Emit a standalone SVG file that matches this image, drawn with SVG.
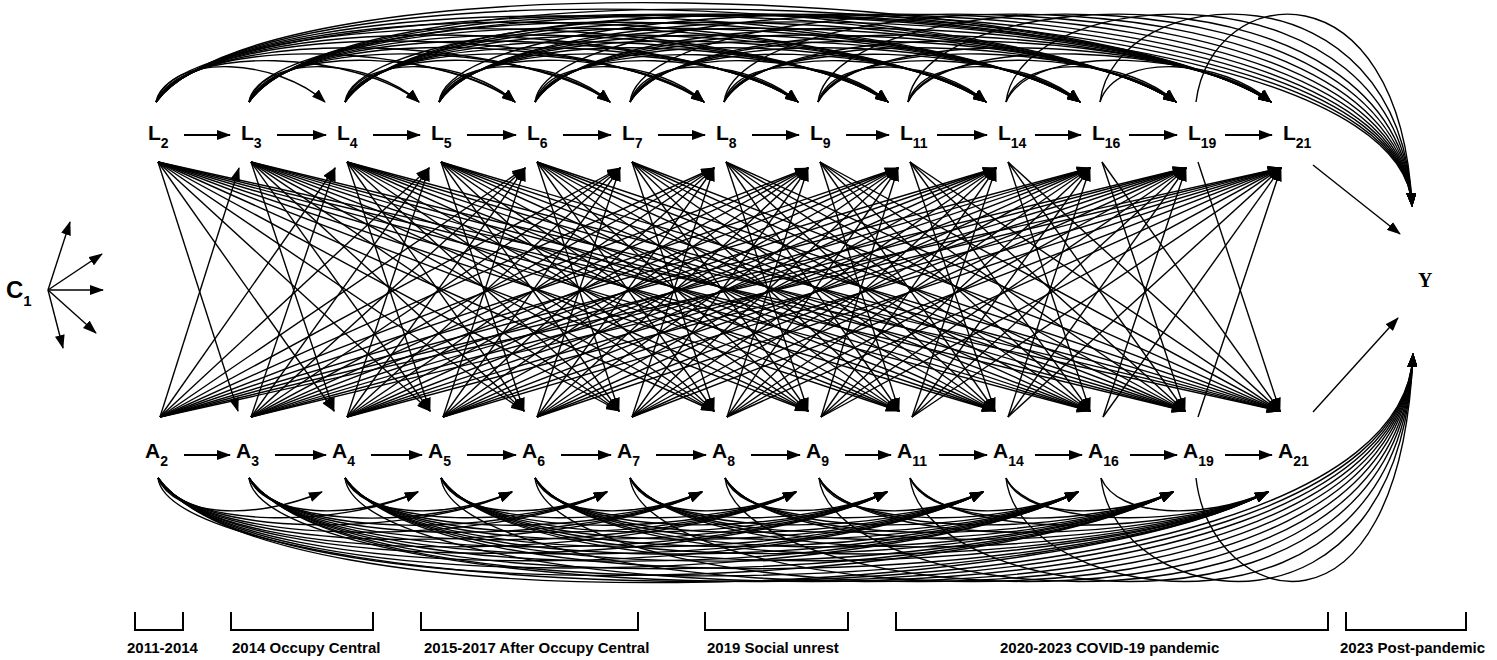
<svg xmlns="http://www.w3.org/2000/svg" width="1497" height="660" viewBox="0 0 1497 660">
<defs>
<marker id="ah" viewBox="0 0 14 10" refX="13" refY="5" markerWidth="14" markerHeight="10" markerUnits="userSpaceOnUse" orient="auto"><path d="M0,0L14,5L0,10z" fill="#000"/></marker>
</defs>
<style>
text{font-family:"Liberation Sans",Arial,sans-serif;font-weight:bold;fill:#000}
.n{font-size:21px}
.s{font-size:14px}
.p{font-size:15px}
.y{font-family:"Liberation Serif","Times New Roman",serif;font-size:20px}
#connectors path{fill:none;stroke:#000;stroke-width:1.4;marker-end:url(#ah)}
#connectors .h path{stroke-width:2}
.br{fill:none;stroke:#000;stroke-width:2}
</style>
<rect width="1497" height="660" fill="#fff"/>
<g id="connectors">
<g class="h">
<path d="M184 135H230"/><path d="M277 135H326"/><path d="M373 135H420"/><path d="M467 135H516"/><path d="M563 135H611"/><path d="M658 135H705"/><path d="M752 135H799"/><path d="M846 135H889"/><path d="M937 135H987"/><path d="M1035 135H1081"/><path d="M1129 135H1177"/><path d="M1225 135H1272"/>
<path d="M184 455H230"/><path d="M275 455H326"/><path d="M371 455H422"/><path d="M467 455H516"/><path d="M561 455H611"/><path d="M656 455H706"/><path d="M751 455H800"/><path d="M845 455H891"/><path d="M939 455H987"/><path d="M1035 455H1082"/><path d="M1130 455H1177"/><path d="M1225 455H1272"/>
</g>
<g class="c1">
<path d="M48 290L70 222"/><path d="M48 290L102 254"/><path d="M48 290L103 290"/><path d="M48 290L96 333"/><path d="M48 290L63 348"/>
</g>
<g class="toY">
<path d="M1313 165L1400 234"/><path d="M1313 412L1398 318"/>
</g>
<g class="topArcs">
<path d="M156 102C173 50 280 60 325 102"/><path d="M156 102C182 41 360 53 419 102"/><path d="M156 102C192 31 441 45 515 102"/><path d="M156 102C201 22 522 38 610 102"/><path d="M156 102C211 12 602 30 704 102"/><path d="M156 102C220 3 682 23 798 102"/><path d="M156 102C229 -6 758 15 888 102"/><path d="M156 102C239 -16 841 8 986 102"/><path d="M156 102C248 -25 921 0 1080 102"/><path d="M156 102C258 -35 1003 -8 1176 102"/><path d="M156 102C268 -45 1084 -15 1271 102"/>
<path d="M249 102C266 50 374 60 419 102"/><path d="M249 102C276 40 455 53 515 102"/><path d="M249 102C285 31 536 45 610 102"/><path d="M249 102C295 21 616 38 704 102"/><path d="M249 102C304 12 696 30 798 102"/><path d="M249 102C313 3 772 23 888 102"/><path d="M249 102C323 -7 855 15 986 102"/><path d="M249 102C332 -16 935 8 1080 102"/><path d="M249 102C342 -26 1017 0 1176 102"/><path d="M249 102C351 -35 1098 -8 1271 102"/>
<path d="M345 102C362 50 470 60 515 102"/><path d="M345 102C372 40 550 53 610 102"/><path d="M345 102C381 31 630 45 704 102"/><path d="M345 102C390 22 710 38 798 102"/><path d="M345 102C399 13 787 31 888 102"/><path d="M345 102C409 3 870 23 986 102"/><path d="M345 102C419 -7 950 15 1080 102"/><path d="M345 102C428 -16 1031 8 1176 102"/><path d="M345 102C438 -26 1112 0 1271 102"/>
<path d="M439 102C456 50 564 60 610 102"/><path d="M439 102C466 40 644 53 704 102"/><path d="M439 102C475 31 724 45 798 102"/><path d="M439 102C484 22 801 38 888 102"/><path d="M439 102C494 12 884 30 986 102"/><path d="M439 102C503 3 964 23 1080 102"/><path d="M439 102C513 -7 1045 15 1176 102"/><path d="M439 102C522 -16 1126 7 1271 102"/>
<path d="M535 102C552 50 659 60 704 102"/><path d="M535 102C561 41 739 53 798 102"/><path d="M535 102C570 32 815 46 888 102"/><path d="M535 102C580 22 898 38 986 102"/><path d="M535 102C590 13 978 30 1080 102"/><path d="M535 102C599 3 1060 23 1176 102"/><path d="M535 102C609 -7 1141 15 1271 102"/>
<path d="M630 102C647 50 753 61 798 102"/><path d="M630 102C656 41 829 53 888 102"/><path d="M630 102C666 31 913 46 986 102"/><path d="M630 102C675 22 992 38 1080 102"/><path d="M630 102C685 12 1074 30 1176 102"/><path d="M630 102C694 3 1155 23 1271 102"/>
<path d="M724 102C740 51 843 61 888 102"/><path d="M724 102C750 41 927 53 986 102"/><path d="M724 102C760 31 1007 46 1080 102"/><path d="M724 102C769 22 1088 38 1176 102"/><path d="M724 102C779 12 1169 30 1271 102"/>
<path d="M818 102C835 50 941 61 986 102"/><path d="M818 102C844 41 1021 53 1080 102"/><path d="M818 102C854 31 1102 45 1176 102"/><path d="M818 102C863 22 1183 38 1271 102"/>
<path d="M908 102C925 50 1034 60 1080 102"/><path d="M908 102C935 40 1116 53 1176 102"/><path d="M908 102C944 31 1197 45 1271 102"/>
<path d="M1006 102C1023 50 1130 60 1176 102"/><path d="M1006 102C1033 40 1211 53 1271 102"/>
<path d="M1100 102C1117 50 1225 60 1271 102"/>
</g>
<g class="topY">
<path d="M156 102C171 -20 1400 -40 1412 206"/><path d="M249 102C264 -20 1400 -40 1412 206"/><path d="M345 102C360 -20 1400 -40 1412 206"/><path d="M439 102C454 -20 1400 -40 1412 206"/><path d="M535 102C550 -20 1400 -40 1412 206"/><path d="M630 102C645 -20 1400 -40 1412 206"/><path d="M724 102C739 -20 1400 -40 1412 206"/><path d="M818 102C833 -20 1400 -40 1412 206"/><path d="M908 102C923 -20 1400 -40 1412 206"/><path d="M1006 102C1021 -20 1400 -40 1412 206"/><path d="M1100 102C1115 -20 1400 -40 1412 206"/><path d="M1196 102C1211 -20 1400 -40 1412 206"/>
</g>
<g class="LtoA">
<path d="M158 162L238 411"/><path d="M158 162L334 411"/><path d="M158 162L430 411"/><path d="M158 162L524 411"/><path d="M158 162L619 411"/><path d="M158 162L714 411"/><path d="M158 162L808 411"/><path d="M158 162L899 411"/><path d="M158 162L995 411"/><path d="M158 162L1090 411"/><path d="M158 162L1185 411"/><path d="M158 162L1280 411"/>
<path d="M251 162L334 411"/><path d="M251 162L430 411"/><path d="M251 162L524 411"/><path d="M251 162L619 411"/><path d="M251 162L714 411"/><path d="M251 162L808 411"/><path d="M251 162L899 411"/><path d="M251 162L995 411"/><path d="M251 162L1090 411"/><path d="M251 162L1185 411"/><path d="M251 162L1280 411"/>
<path d="M347 162L430 411"/><path d="M347 162L524 411"/><path d="M347 162L619 411"/><path d="M347 162L714 411"/><path d="M347 162L808 411"/><path d="M347 162L899 411"/><path d="M347 162L995 411"/><path d="M347 162L1090 411"/><path d="M347 162L1185 411"/><path d="M347 162L1280 411"/>
<path d="M441 162L524 411"/><path d="M441 162L619 411"/><path d="M441 162L714 411"/><path d="M441 162L808 411"/><path d="M441 162L899 411"/><path d="M441 162L995 411"/><path d="M441 162L1090 411"/><path d="M441 162L1185 411"/><path d="M441 162L1280 411"/>
<path d="M537 162L619 411"/><path d="M537 162L714 411"/><path d="M537 162L808 411"/><path d="M537 162L899 411"/><path d="M537 162L995 411"/><path d="M537 162L1090 411"/><path d="M537 162L1185 411"/><path d="M537 162L1280 411"/>
<path d="M632 162L714 411"/><path d="M632 162L808 411"/><path d="M632 162L899 411"/><path d="M632 162L995 411"/><path d="M632 162L1090 411"/><path d="M632 162L1185 411"/><path d="M632 162L1280 411"/>
<path d="M726 162L808 411"/><path d="M726 162L899 411"/><path d="M726 162L995 411"/><path d="M726 162L1090 411"/><path d="M726 162L1185 411"/><path d="M726 162L1280 411"/>
<path d="M820 162L899 411"/><path d="M820 162L995 411"/><path d="M820 162L1090 411"/><path d="M820 162L1185 411"/><path d="M820 162L1280 411"/>
<path d="M910 162L995 411"/><path d="M910 162L1090 411"/><path d="M910 162L1185 411"/><path d="M910 162L1280 411"/>
<path d="M1008 162L1090 411"/><path d="M1008 162L1185 411"/><path d="M1008 162L1280 411"/>
<path d="M1102 162L1185 411"/><path d="M1102 162L1280 411"/>
<path d="M1198 162L1280 411"/>
</g>
<g class="AtoL">
<path d="M160 417L239 168"/><path d="M160 417L335 168"/><path d="M160 417L429 168"/><path d="M160 417L525 168"/><path d="M160 417L620 168"/><path d="M160 417L714 168"/><path d="M160 417L808 168"/><path d="M160 417L898 168"/><path d="M160 417L996 168"/><path d="M160 417L1090 168"/><path d="M160 417L1186 168"/><path d="M160 417L1281 168"/>
<path d="M251 417L335 168"/><path d="M251 417L429 168"/><path d="M251 417L525 168"/><path d="M251 417L620 168"/><path d="M251 417L714 168"/><path d="M251 417L808 168"/><path d="M251 417L898 168"/><path d="M251 417L996 168"/><path d="M251 417L1090 168"/><path d="M251 417L1186 168"/><path d="M251 417L1281 168"/>
<path d="M347 417L429 168"/><path d="M347 417L525 168"/><path d="M347 417L620 168"/><path d="M347 417L714 168"/><path d="M347 417L808 168"/><path d="M347 417L898 168"/><path d="M347 417L996 168"/><path d="M347 417L1090 168"/><path d="M347 417L1186 168"/><path d="M347 417L1281 168"/>
<path d="M443 417L525 168"/><path d="M443 417L620 168"/><path d="M443 417L714 168"/><path d="M443 417L808 168"/><path d="M443 417L898 168"/><path d="M443 417L996 168"/><path d="M443 417L1090 168"/><path d="M443 417L1186 168"/><path d="M443 417L1281 168"/>
<path d="M537 417L620 168"/><path d="M537 417L714 168"/><path d="M537 417L808 168"/><path d="M537 417L898 168"/><path d="M537 417L996 168"/><path d="M537 417L1090 168"/><path d="M537 417L1186 168"/><path d="M537 417L1281 168"/>
<path d="M632 417L714 168"/><path d="M632 417L808 168"/><path d="M632 417L898 168"/><path d="M632 417L996 168"/><path d="M632 417L1090 168"/><path d="M632 417L1186 168"/><path d="M632 417L1281 168"/>
<path d="M727 417L808 168"/><path d="M727 417L898 168"/><path d="M727 417L996 168"/><path d="M727 417L1090 168"/><path d="M727 417L1186 168"/><path d="M727 417L1281 168"/>
<path d="M821 417L898 168"/><path d="M821 417L996 168"/><path d="M821 417L1090 168"/><path d="M821 417L1186 168"/><path d="M821 417L1281 168"/>
<path d="M912 417L996 168"/><path d="M912 417L1090 168"/><path d="M912 417L1186 168"/><path d="M912 417L1281 168"/>
<path d="M1008 417L1090 168"/><path d="M1008 417L1186 168"/><path d="M1008 417L1281 168"/>
<path d="M1103 417L1186 168"/><path d="M1103 417L1281 168"/>
<path d="M1198 417L1281 168"/>
</g>
<g class="bottomArcs">
<path d="M158 478C174 518 257 520 322 492"/><path d="M158 478C184 529 339 528 418 492"/><path d="M158 478C193 540 419 536 512 492"/><path d="M158 478C203 552 500 544 607 492"/><path d="M158 478C212 563 580 552 702 492"/><path d="M158 478C222 575 660 560 796 492"/><path d="M158 478C231 585 738 567 887 492"/><path d="M158 478C241 597 819 575 983 492"/><path d="M158 478C250 608 900 583 1078 492"/><path d="M158 478C260 620 981 591 1173 492"/><path d="M158 478C269 631 1061 599 1268 492"/>
<path d="M249 478C266 518 353 520 418 492"/><path d="M249 478C275 530 433 528 512 492"/><path d="M249 478C285 541 513 536 607 492"/><path d="M249 478C294 552 594 544 702 492"/><path d="M249 478C304 564 674 552 796 492"/><path d="M249 478C313 575 751 560 887 492"/><path d="M249 478C322 586 833 568 983 492"/><path d="M249 478C332 597 914 576 1078 492"/><path d="M249 478C341 609 994 584 1173 492"/><path d="M249 478C351 620 1075 592 1268 492"/>
<path d="M345 478C362 518 447 520 512 492"/><path d="M345 478C371 529 528 528 607 492"/><path d="M345 478C381 541 608 536 702 492"/><path d="M345 478C390 552 688 544 796 492"/><path d="M345 478C399 563 766 552 887 492"/><path d="M345 478C409 575 847 560 983 492"/><path d="M345 478C418 586 928 568 1078 492"/><path d="M345 478C428 597 1009 576 1173 492"/><path d="M345 478C437 609 1090 584 1268 492"/>
<path d="M441 478C458 518 542 520 607 492"/><path d="M441 478C467 529 623 528 702 492"/><path d="M441 478C477 541 703 536 796 492"/><path d="M441 478C486 552 780 543 887 492"/><path d="M441 478C495 563 862 552 983 492"/><path d="M441 478C505 574 942 560 1078 492"/><path d="M441 478C514 586 1023 567 1173 492"/><path d="M441 478C524 597 1104 575 1268 492"/>
<path d="M535 478C552 518 637 520 702 492"/><path d="M535 478C561 529 717 528 796 492"/><path d="M535 478C570 540 794 536 887 492"/><path d="M535 478C580 552 876 544 983 492"/><path d="M535 478C589 563 957 552 1078 492"/><path d="M535 478C599 575 1037 560 1173 492"/><path d="M535 478C608 586 1118 568 1268 492"/>
<path d="M630 478C647 518 731 520 796 492"/><path d="M630 478C656 529 808 528 887 492"/><path d="M630 478C665 540 890 536 983 492"/><path d="M630 478C675 552 971 544 1078 492"/><path d="M630 478C684 563 1052 552 1173 492"/><path d="M630 478C694 575 1132 560 1268 492"/>
<path d="M725 478C741 517 823 520 887 492"/><path d="M725 478C751 529 904 528 983 492"/><path d="M725 478C760 540 985 536 1078 492"/><path d="M725 478C770 552 1066 544 1173 492"/><path d="M725 478C779 563 1147 552 1268 492"/>
<path d="M819 478C835 518 918 520 983 492"/><path d="M819 478C845 529 999 528 1078 492"/><path d="M819 478C854 540 1080 536 1173 492"/><path d="M819 478C864 552 1161 544 1268 492"/>
<path d="M910 478C927 518 1013 520 1078 492"/><path d="M910 478C936 530 1094 528 1173 492"/><path d="M910 478C946 541 1174 536 1268 492"/>
<path d="M1006 478C1023 518 1108 520 1173 492"/><path d="M1006 478C1032 529 1189 528 1268 492"/>
<path d="M1101 478C1118 518 1203 520 1268 492"/>
</g>
<g class="bottomY">
<path d="M158 478C173 610 1400 660 1413 354"/><path d="M249 478C264 610 1400 660 1413 354"/><path d="M345 478C360 610 1400 660 1413 354"/><path d="M441 478C456 610 1400 660 1413 354"/><path d="M535 478C550 610 1400 660 1413 354"/><path d="M630 478C645 610 1400 660 1413 354"/><path d="M725 478C740 610 1400 660 1413 354"/><path d="M819 478C834 610 1400 660 1413 354"/><path d="M910 478C925 610 1400 660 1413 354"/><path d="M1006 478C1021 610 1400 660 1413 354"/><path d="M1101 478C1116 610 1400 660 1413 354"/><path d="M1196 478C1211 610 1400 660 1413 354"/>
</g>
</g>
<g id="C1"><text x="6" y="298" style="font-size:24px">C<tspan class="s" dy="8" style="font-size:15px">1</tspan></text></g>
<g id="Y"><text class="y" x="1418" y="287">Y</text></g>
<g id="L2"><text class="n" x="148" y="140">L<tspan class="s" dy="8">2</tspan></text></g>
<g id="L3"><text class="n" x="241" y="140">L<tspan class="s" dy="8">3</tspan></text></g>
<g id="L4"><text class="n" x="337" y="140">L<tspan class="s" dy="8">4</tspan></text></g>
<g id="L5"><text class="n" x="431" y="140">L<tspan class="s" dy="8">5</tspan></text></g>
<g id="L6"><text class="n" x="527" y="140">L<tspan class="s" dy="8">6</tspan></text></g>
<g id="L7"><text class="n" x="622" y="140">L<tspan class="s" dy="8">7</tspan></text></g>
<g id="L8"><text class="n" x="716" y="140">L<tspan class="s" dy="8">8</tspan></text></g>
<g id="L9"><text class="n" x="810" y="140">L<tspan class="s" dy="8">9</tspan></text></g>
<g id="L11"><text class="n" x="900" y="140">L<tspan class="s" dy="8">11</tspan></text></g>
<g id="L14"><text class="n" x="998" y="140">L<tspan class="s" dy="8">14</tspan></text></g>
<g id="L16"><text class="n" x="1092" y="140">L<tspan class="s" dy="8">16</tspan></text></g>
<g id="L19"><text class="n" x="1188" y="140">L<tspan class="s" dy="8">19</tspan></text></g>
<g id="L21"><text class="n" x="1283" y="140">L<tspan class="s" dy="8">21</tspan></text></g>
<g id="A2"><text class="n" x="145" y="458">A<tspan class="s" dy="8">2</tspan></text></g>
<g id="A3"><text class="n" x="236" y="458">A<tspan class="s" dy="8">3</tspan></text></g>
<g id="A4"><text class="n" x="332" y="458">A<tspan class="s" dy="8">4</tspan></text></g>
<g id="A5"><text class="n" x="428" y="458">A<tspan class="s" dy="8">5</tspan></text></g>
<g id="A6"><text class="n" x="522" y="458">A<tspan class="s" dy="8">6</tspan></text></g>
<g id="A7"><text class="n" x="617" y="458">A<tspan class="s" dy="8">7</tspan></text></g>
<g id="A8"><text class="n" x="712" y="458">A<tspan class="s" dy="8">8</tspan></text></g>
<g id="A9"><text class="n" x="806" y="458">A<tspan class="s" dy="8">9</tspan></text></g>
<g id="A11"><text class="n" x="897" y="458">A<tspan class="s" dy="8">11</tspan></text></g>
<g id="A14"><text class="n" x="993" y="458">A<tspan class="s" dy="8">14</tspan></text></g>
<g id="A16"><text class="n" x="1088" y="458">A<tspan class="s" dy="8">16</tspan></text></g>
<g id="A19"><text class="n" x="1183" y="458">A<tspan class="s" dy="8">19</tspan></text></g>
<g id="A21"><text class="n" x="1278" y="458">A<tspan class="s" dy="8">21</tspan></text></g>
<g id="periods">
<path class="br" d="M135 612V630H183V612"/>
<path class="br" d="M231 612V630H373V612"/>
<path class="br" d="M421 612V630H638V612"/>
<path class="br" d="M705 612V630H848V612"/>
<path class="br" d="M896 612V630H1328V612"/>
<path class="br" d="M1346 612V630H1466V612"/>
<text class="p" x="127" y="653">2011-2014</text>
<text class="p" x="232" y="653">2014 Occupy Central</text>
<text class="p" x="424" y="653">2015-2017 After Occupy Central</text>
<text class="p" x="707" y="653">2019 Social unrest</text>
<text class="p" x="1000" y="653">2020-2023 COVID-19 pandemic</text>
<text class="p" x="1340" y="653">2023 Post-pandemic</text>
</g>
</svg>
